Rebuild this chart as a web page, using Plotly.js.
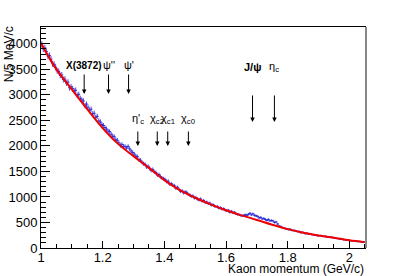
<!DOCTYPE html>
<html>
<head>
<meta charset="utf-8">
<script src="https://cdn.plot.ly/plotly-3.0.1.min.js"></script>
<style>html,body{margin:0;padding:0;background:#fff;}#chart{width:407px;height:276px;}</style>
</head>
<body>
<div id="chart"></div>
<script>
// Histogram: 5 MeV/c bins starting at 1.000 GeV/c
const binStart = 1.0;
const binWidth = 0.005;
const counts = [
  3990, 3900, 3920, 3850, 3760, 3770, 3700, 3610, 3600, 3540,
  3470, 3460, 3380, 3390, 3300, 3310, 3230, 3250, 3140, 3160,
  3120, 3080, 3090, 2990, 3010, 2930, 2900, 2880, 2790, 2820,
  2760, 2700, 2720, 2630, 2640, 2560, 2580, 2490, 2470, 2420,
  2400, 2360, 2330, 2290, 2280, 2230, 2190, 2180, 2120, 2110,
  2060, 2010, 2030, 1990, 1990, 1960, 1990, 1940, 1900, 1870,
  1840, 1800, 1790, 1730, 1720, 1680, 1650, 1640, 1590, 1600,
  1560, 1520, 1540, 1490, 1480, 1430, 1440, 1400, 1370, 1360,
  1340, 1300, 1310, 1250, 1260, 1230, 1220, 1170, 1190, 1150,
  1110, 1120, 1080, 1100, 1090, 1050, 1040, 1010, 1020, 980,
  990, 960, 940, 960, 920, 930, 890, 900, 870, 880,
  840, 850, 820, 810, 810, 780, 790, 760, 770, 740,
  730, 740, 700, 720, 690, 700, 670, 660, 650, 640,
  630, 640, 650, 640, 660, 680, 650, 670, 640, 630,
  620, 590, 600, 570, 580, 560, 540, 560, 530, 540,
  530, 500, 510, 470, 430, 420, 400, 390, 380, 370,
  360, 370, 350, 340, 345, 330, 320, 325, 300, 310,
  300, 280, 290, 275, 280, 265, 260, 250, 255, 240,
  240, 245, 230, 225, 230, 215, 220, 205, 210, 200,
  195, 190, 185, 180, 170, 175, 160, 165, 150, 155,
  145, 140, 145, 130, 135, 125, 130, 120, 115, 120
];
const binCenters = counts.map((_, i) => binStart + binWidth * (i + 0.5));

// Background fit curve
const fitX = [1.00, 1.05, 1.10, 1.15, 1.20, 1.25, 1.30, 1.35, 1.40, 1.45, 1.50,
              1.55, 1.60, 1.65, 1.70, 1.75, 1.80, 1.85, 1.90, 1.95, 2.00, 2.05];
const fitY = [4010, 3500, 3110, 2720, 2350, 2040, 1800, 1570, 1330, 1135, 985,
              855, 740, 640, 550, 455, 370, 300, 245, 200, 150, 115];

// Charmonium states: expected kaon momentum
const upperLabels = ["<b>X(3872)</b>", "ψ''", "ψ'"];
const upperP = [1.140, 1.219, 1.284];
const lowerLabels = ["η'<sub>c</sub>", "χ<sub>c2</sub>", "χ<sub>c1</sub>", "χ<sub>c0</sub>"];
const lowerP = [1.314, 1.377, 1.411, 1.478];
const rightLabels = ["<b>J/ψ</b>", "η<sub>c</sub>"];
const rightP = [1.686, 1.757];

const xTickVals = [1, 1.2, 1.4, 1.6, 1.8, 2];
const xTickText = ["1", "1.2", "1.4", "1.6", "1.8", "2"];

const FONT = "Liberation Sans, Arial, Helvetica, sans-serif";

const traces = [
  {
    x: binCenters, y: counts, type: 'scatter', mode: 'markers',
    marker: {symbol: 'line-ew', size: 2, color: 'rgb(40,40,210)', line: {color: 'rgb(40,40,210)', width: 1}},
    error_y: {type: 'sqrt', visible: true, color: 'rgb(80,80,225)', thickness: 1, width: 0},
    hoverinfo: 'skip', showlegend: false
  },
  {
    x: fitX, y: fitY, type: 'scatter', mode: 'lines',
    line: {color: 'rgb(240,0,0)', width: 2, shape: 'spline', smoothing: 1},
    hoverinfo: 'skip', showlegend: false
  }
];

const annotations = [];
function addGroup(labels, ps, labelY, headY, tailY) {
  labels.forEach((t, i) => {
    const isX = t.indexOf('3872') >= 0;
    annotations.push({x: ps[i], xref: 'x', y: labelY, yref: 'paper', text: t, showarrow: false,
      xanchor: 'center', yanchor: 'middle', font: {family: FONT, size: isX ? 10 : 11, color: '#000'}});
    annotations.push({x: ps[i], xref: 'x', y: headY, yref: 'paper', text: '', showarrow: true,
      ax: 0, ay: -(tailY - headY) * 221, arrowhead: 2, arrowsize: 0.9, arrowwidth: 1, arrowcolor: '#000',
      standoff: 0, startstandoff: 0});
  });
}
addGroup(upperLabels, upperP, 0.828, 0.697, 0.792);
addGroup(lowerLabels, lowerP, 0.582, 0.4615, 0.534);
addGroup(rightLabels, rightP, 0.819, 0.570, 0.697);

annotations.push({text: 'Kaon momentum (GeV/c)', xref: 'paper', yref: 'paper', x: 1, y: -0.097,
  xanchor: 'right', yanchor: 'middle', showarrow: false, font: {family: FONT, size: 12, color: '#000'}});
annotations.push({text: 'N/5 MeV/c', xref: 'paper', yref: 'paper', x: -0.1, y: 1.01, textangle: -90,
  xanchor: 'center', yanchor: 'top', showarrow: false, font: {family: FONT, size: 12, color: '#000'}});

const layout = {
  width: 407, height: 276,
  margin: {l: 41, r: 41, t: 27, b: 28, pad: 0},
  paper_bgcolor: '#fff', plot_bgcolor: '#fff',
  font: {family: FONT, size: 13, color: '#000'},
  xaxis: {
    range: [1, 2.054], showgrid: false, zeroline: false,
    showline: true, linecolor: '#000', linewidth: 1, mirror: true,
    ticks: 'inside', ticklen: 7, tickcolor: '#000',
    tickvals: xTickVals, ticktext: xTickText, ticklabelstandoff: -3,
    minor: {dtick: 0.05, ticks: 'inside', ticklen: 4, tickcolor: '#000'},
    tickfont: {family: FONT, size: 13}
  },
  yaxis: {
    range: [0, 4330], showgrid: false, zeroline: false,
    showline: true, linecolor: '#000', linewidth: 1,
    ticks: 'inside', ticklen: 9, tickcolor: '#000', dtick: 500, tickformat: 'd',
    minor: {dtick: 100, ticks: 'inside', ticklen: 5, tickcolor: '#000'},
    tickfont: {family: FONT, size: 13}
  },
  shapes: [{type: 'line', xref: 'paper', yref: 'paper', x0: 1, x1: 1, y0: 0, y1: 1,
            line: {color: '#888', width: 2}}],
  annotations: annotations
};

Plotly.newPlot('chart', traces, layout, {displayModeBar: false, staticPlot: true});
</script>
</body>
</html>
